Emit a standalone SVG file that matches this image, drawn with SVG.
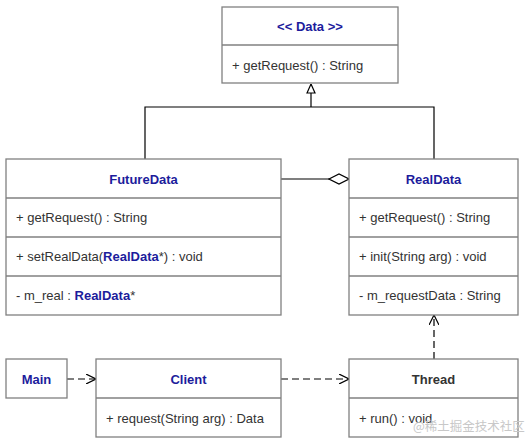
<svg xmlns="http://www.w3.org/2000/svg" width="525" height="445" viewBox="0 0 525 445">
<style>
.box{fill:#fff;stroke:#808080;stroke-width:1.3}
.div{stroke:#808080;stroke-width:1.3}
.t{font-family:"Liberation Sans",Arial,sans-serif;font-size:13px;fill:#333}
.h{font-family:"Liberation Sans",Arial,sans-serif;font-size:13px;font-weight:bold;fill:#1c1c9c;text-anchor:middle}
.b{font-weight:bold;fill:#1c1c9c}
.c{fill:none;stroke:#000;stroke-width:1.2}
.d{stroke-dasharray:7,4}
</style>
<defs>
<marker id="open" viewBox="0 0 10 10" refX="10" refY="5" markerWidth="10" markerHeight="10" markerUnits="userSpaceOnUse" orient="auto">
<path d="M0,0 L10,5 L0,10" fill="none" stroke="#000" stroke-width="1.2"/>
</marker>
<marker id="tri" viewBox="0 0 10 10" refX="10" refY="5" markerWidth="10" markerHeight="10" markerUnits="userSpaceOnUse" orient="auto">
<path d="M1,1 L10,5 L1,9 Z" fill="#fff" stroke="#000" stroke-width="1.2"/>
</marker>
<marker id="dia" viewBox="0 0 22 12" refX="21" refY="6" markerWidth="22" markerHeight="12" markerUnits="userSpaceOnUse" orient="auto">
<path d="M1,6 L11,1 L21,6 L11,11 Z" fill="#fff" stroke="#000" stroke-width="1.2"/>
</marker>
</defs>
<g id="connectors">
<path class="c" d="M145,159 V107 H434 V159"/>
<path class="c" d="M311,107 V84" marker-end="url(#tri)"/>
<path class="c" d="M281,179 H349" marker-end="url(#dia)"/>
<path class="c d" d="M67,379 H96" marker-end="url(#open)"/>
<path class="c d" d="M281,379 H349" marker-end="url(#open)"/>
<path class="c d" d="M434,359 V315" marker-end="url(#open)"/>
</g>
<g id="Data">
<rect class="box" x="222" y="7" width="176" height="76"/>
<line class="div" x1="222" y1="45" x2="398" y2="45"/>
<text class="h" x="310" y="31">&lt;&lt; Data &gt;&gt;</text>
<text class="t" x="232" y="70">+ getRequest() : String</text>
</g>
<g id="FutureData">
<rect class="box" x="6" y="159" width="275" height="156"/>
<line class="div" x1="6" y1="198" x2="281" y2="198"/>
<line class="div" x1="6" y1="237" x2="281" y2="237"/>
<line class="div" x1="6" y1="276" x2="281" y2="276"/>
<text class="h" x="143.5" y="184">FutureData</text>
<text class="t" x="16" y="222">+ getRequest() : String</text>
<text class="t" x="16" y="261">+ setRealData(<tspan class="b">RealData</tspan>*) : void</text>
<text class="t" x="16" y="300">- m_real : <tspan class="b">RealData</tspan>*</text>
</g>
<g id="RealData">
<rect class="box" x="349" y="159" width="169" height="156"/>
<line class="div" x1="349" y1="198" x2="518" y2="198"/>
<line class="div" x1="349" y1="237" x2="518" y2="237"/>
<line class="div" x1="349" y1="276" x2="518" y2="276"/>
<text class="h" x="433.5" y="184">RealData</text>
<text class="t" x="359" y="222">+ getRequest() : String</text>
<text class="t" x="359" y="261">+ init(String arg) : void</text>
<text class="t" x="359" y="300">- m_requestData : String</text>
</g>
<g id="Main">
<rect class="box" x="6" y="359" width="61" height="39"/>
<text class="h" x="36.5" y="384">Main</text>
</g>
<g id="Client">
<rect class="box" x="96" y="359" width="185" height="78"/>
<line class="div" x1="96" y1="398" x2="281" y2="398"/>
<text class="h" x="188.5" y="384">Client</text>
<text class="t" x="106" y="423">+ request(String arg) : Data</text>
</g>
<g id="Thread">
<rect class="box" x="349" y="359" width="169" height="78"/>
<line class="div" x1="349" y1="398" x2="518" y2="398"/>
<text class="h" x="433.5" y="384" style="fill:#333">Thread</text>
<text class="t" x="359" y="423">+ run() : void</text>
</g>
<text x="413" y="431" style="font-family:'Noto Sans CJK SC','Liberation Sans',sans-serif;font-size:12.5px;fill:#c8c8c8">@稀土掘金技术社区</text>
</svg>
